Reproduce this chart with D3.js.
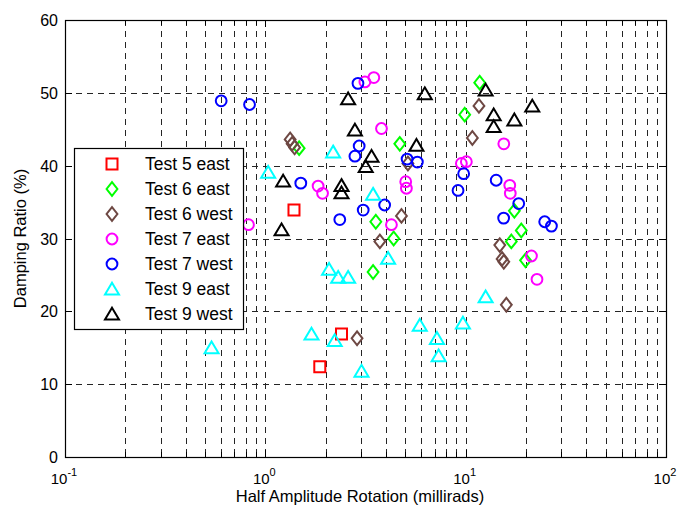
<!DOCTYPE html>
<html>
<head>
<meta charset="utf-8">
<script src="https://cdn.jsdelivr.net/npm/d3@7"></script>
<style>
  body { margin: 0; background: #fff; }
  svg { font-family: "Liberation Sans", Arial, sans-serif; }
</style>
</head>
<body>
<div id="chart"></div>
<script>
// values: [rotation (millirads), damping ratio (%)]
const test5East = [[1.39, 33.9], [2.40, 16.9], [1.87, 12.4]];
const test6East = [[1.475, 42.4], [3.56, 32.3], [3.45, 25.4], [4.37, 30.0], [4.69, 43.0], [9.89, 47.0],
  [11.75, 51.4], [17.5, 33.8], [18.95, 31.1], [16.9, 29.6], [19.9, 27.0]];
const test6West = [[1.33, 43.6], [1.36, 43.0], [1.40, 42.5], [11.65, 48.2], [10.8, 43.8], [5.15, 40.3],
  [4.78, 33.1], [3.73, 29.6], [14.8, 29.1], [15.2, 27.2], [15.5, 26.8], [15.96, 20.9], [2.87, 16.3]];
const test7East = [[0.824, 31.9], [1.834, 37.2], [1.93, 36.2], [3.14, 51.5], [3.48, 52.1], [3.80, 45.1],
  [4.26, 31.9], [5.02, 37.8], [5.06, 36.9], [9.52, 40.3], [10.08, 40.55], [15.5, 43.0], [16.6, 37.3],
  [16.7, 36.2], [21.3, 27.6], [22.7, 24.4]];
const test7West = [[0.602, 48.9], [0.834, 48.4], [1.503, 37.6], [2.90, 51.3], [2.94, 42.7], [2.80, 41.3],
  [2.353, 32.6], [3.08, 33.9], [3.94, 34.6], [5.10, 40.9], [5.74, 40.5], [9.77, 38.9], [9.16, 36.6],
  [14.2, 38.0], [18.4, 34.8], [15.47, 32.8], [24.8, 32.3], [26.8, 31.7]];
const test9East = [[0.539, 15.0], [1.033, 39.1], [2.18, 41.9], [3.45, 36.1], [4.10, 27.3], [12.58, 22.0],
  [5.90, 18.1], [9.69, 18.4], [7.19, 16.3], [7.33, 13.9], [3.02, 11.8], [2.08, 25.8], [2.31, 24.7],
  [2.59, 24.7], [1.70, 16.9], [2.22, 16.0]];
const test9West = [[1.227, 37.9], [1.205, 31.2], [2.59, 49.2], [2.80, 44.9], [3.39, 41.3], [3.17, 39.9],
  [2.40, 37.3], [2.40, 36.3], [6.25, 49.9], [5.68, 42.8], [12.58, 50.4], [13.8, 47.0], [13.8, 45.4],
  [21.5, 48.2], [17.5, 46.3]];

const seriesNames = ["Test 5 east", "Test 6 east", "Test 6 west", "Test 7 east", "Test 7 west", "Test 9 east", "Test 9 west"];
const seriesData = [test5East, test6East, test6West, test7East, test7West, test9East, test9West];
const seriesColors = ["#ff0000", "#00ff00", "#6e4843", "#ff00ff", "#0000ff", "#00ffff", "#000000"];
const seriesShapes = ["square", "diamond", "diamond", "circle", "circle", "triangle", "triangle"];

const yTicks = [0, 10, 20, 30, 40, 50, 60];
const xDecades = [-1, 0, 1, 2];

const width = 678, height = 513;
const plot = {left: 65, right: 666, top: 20, bottom: 457};

const svg = d3.select("#chart").append("svg")
  .attr("width", width)
  .attr("height", height);

const x = d3.scaleLog().domain([0.1, 100]).range([plot.left, plot.right]);
const y = d3.scaleLinear().domain([0, 60]).range([plot.bottom, plot.top]);

// minor positions 2..9 in each decade
let xMinor = [];
for (let d = -1; d < 2; d++) {
  for (let k = 2; k <= 9; k++) xMinor.push(k * Math.pow(10, d));
}
const xMajor = xDecades.map(d => Math.pow(10, d));

const grid = svg.append("g").attr("stroke", "#000").attr("stroke-width", 1)
  .attr("stroke-dasharray", "6,5").attr("opacity", 0.85);

// vertical grid (major + minor)
grid.selectAll(".vg")
  .data(xMinor.concat(xMajor.slice(1, -1)))
  .enter().append("line")
  .attr("x1", d => Math.round(x(d)) + 0.5)
  .attr("x2", d => Math.round(x(d)) + 0.5)
  .attr("y1", plot.top)
  .attr("y2", plot.bottom);

// horizontal grid
grid.selectAll(".hg")
  .data(yTicks.slice(1, -1))
  .enter().append("line")
  .attr("x1", plot.left)
  .attr("x2", plot.right)
  .attr("y1", d => Math.round(y(d)) + 0.5)
  .attr("y2", d => Math.round(y(d)) + 0.5);

// ticks, inward on all four sides
const ticks = svg.append("g").attr("stroke", "#000").attr("stroke-width", 1);
xMinor.concat(xMajor).forEach(d => {
  const len = xMajor.includes(d) ? 7 : 5;
  const px = Math.round(x(d)) + 0.5;
  ticks.append("line").attr("x1", px).attr("x2", px).attr("y1", plot.bottom).attr("y2", plot.bottom - len);
  ticks.append("line").attr("x1", px).attr("x2", px).attr("y1", plot.top).attr("y2", plot.top + len);
});
yTicks.forEach(d => {
  const py = Math.round(y(d)) + 0.5;
  ticks.append("line").attr("x1", plot.left).attr("x2", plot.left + 7).attr("y1", py).attr("y2", py);
  ticks.append("line").attr("x1", plot.right).attr("x2", plot.right - 7).attr("y1", py).attr("y2", py);
});

// markers
function markerPath(shape) {
  if (shape === "square") return "M-5.5,-5.5H5.5V5.5H-5.5Z";
  if (shape === "diamond") return "M0,-6.8L5.4,0L0,6.8L-5.4,0Z";
  if (shape === "triangle") return "M0,-6.2L7,5.6H-7Z";
  return "M5.4,0A5.4,5.4 0 1,1 -5.4,0A5.4,5.4 0 1,1 5.4,0Z";
}

seriesData.forEach((data, i) => {
  svg.append("g")
    .selectAll("path")
    .data(data)
    .enter().append("path")
    .attr("d", markerPath(seriesShapes[i]))
    .attr("transform", d => "translate(" + x(d[0]) + "," + y(d[1]) + ")")
    .attr("fill", "none")
    .attr("stroke", seriesColors[i])
    .attr("stroke-width", 2);
});

// axes box
svg.append("rect")
  .attr("x", plot.left + 0.5)
  .attr("y", plot.top + 0.5)
  .attr("width", plot.right - plot.left)
  .attr("height", plot.bottom - plot.top)
  .attr("fill", "none")
  .attr("stroke", "#000")
  .attr("stroke-width", 1.2);

// y tick labels
svg.append("g").selectAll("text")
  .data(yTicks)
  .enter().append("text")
  .attr("x", plot.left - 7)
  .attr("y", d => y(d) + 6)
  .attr("text-anchor", "end")
  .attr("font-size", 16)
  .text(d => d);

// x tick labels 10^n
const xl = svg.append("g").selectAll("text")
  .data(xDecades)
  .enter().append("text")
  .attr("x", d => x(Math.pow(10, d)) - 1)
  .attr("y", 484)
  .attr("text-anchor", "middle")
  .attr("font-size", 15);
xl.append("tspan").text("10");
xl.append("tspan").attr("dy", -8).attr("font-size", 11).text(d => d);

// axis titles
svg.append("text")
  .attr("x", 360)
  .attr("y", 502)
  .attr("text-anchor", "middle")
  .attr("font-size", 16.5)
  .text("Half Amplitude Rotation (millirads)");

svg.append("text")
  .attr("transform", "translate(26," + ((plot.top + plot.bottom) / 2) + ") rotate(-90)")
  .attr("text-anchor", "middle")
  .attr("font-size", 16.5)
  .text("Damping Ratio (%)");

// legend
const legend = svg.append("g");
legend.append("rect")
  .attr("x", 74.5).attr("y", 148.5)
  .attr("width", 169).attr("height", 181)
  .attr("fill", "#fff")
  .attr("stroke", "#000")
  .attr("stroke-width", 1.2);

seriesNames.forEach((name, i) => {
  const cy = 164 + i * 25;
  legend.append("path")
    .attr("d", markerPath(seriesShapes[i]))
    .attr("transform", "translate(112," + cy + ")")
    .attr("fill", "none")
    .attr("stroke", seriesColors[i])
    .attr("stroke-width", 2);
  legend.append("text")
    .attr("x", 145)
    .attr("y", cy + 6)
    .attr("font-size", 17.5)
    .text(name);
});
</script>
</body>
</html>
